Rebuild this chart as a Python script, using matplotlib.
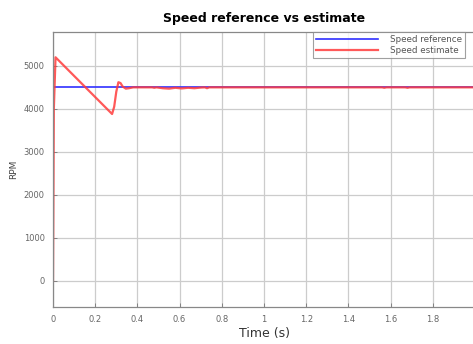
import matplotlib
matplotlib.use("Agg")
import matplotlib.pyplot as plt

# Speed reference (constant set point)
ref_time = [0.0, 2.0]
ref_speed = [4500, 4500]

# Speed estimate from the observer
est_time = [0.0, 0.004, 0.012, 0.28, 0.29,
            0.30, 0.31, 0.32, 0.33, 0.345, 0.36, 0.38, 0.40, 0.47, 0.48,
            0.49, 0.52, 0.55, 0.58, 0.61, 0.64, 0.67, 0.70, 0.72, 0.73,
            0.74, 1.0, 1.56, 1.57, 1.58, 1.67, 1.68, 1.69, 2.0]
est_speed = [0, 4000, 5200, 3880, 4050,
             4400, 4620, 4600, 4520, 4470, 4480, 4500, 4500, 4500, 4490,
             4500, 4480, 4470, 4490, 4475, 4490, 4480, 4495, 4500, 4480,
             4500, 4500, 4500, 4490, 4500, 4500, 4490, 4500, 4500]

x_ticks = [0, 0.2, 0.4, 0.6, 0.8, 1.0, 1.2, 1.4, 1.6, 1.8, 2.0]
x_labels = ["0", "0.2", "0.4", "0.6", "0.8", "1", "1.2", "1.4", "1.6", "1.8", ""]
y_ticks = [0, 1000, 2000, 3000, 4000, 5000]

fig = plt.figure(figsize=(4.73, 3.44), dpi=100)
ax = fig.add_axes([53 / 473, 1 - 306.5 / 344, 422 / 473, 275 / 344])

ax.plot(ref_time, ref_speed, color="#3030ff", lw=1.2, label="Speed reference")
ax.plot(est_time, est_speed, color="#ff3c3c", lw=1.6, alpha=0.85, label="Speed estimate")

ax.set_xlim(0, 2)
ax.set_ylim(-600, 5800)
ax.set_xticks(x_ticks)
ax.set_xticklabels(x_labels)
ax.set_yticks(y_ticks)
ax.tick_params(direction="in", length=3, width=0.6, colors="#777777",
               labelsize=6, labelcolor="#666666", pad=6)
ax.grid(True, color="#cccccc", lw=0.9)
for s in ax.spines.values():
    s.set_color("#888888")
    s.set_linewidth(0.9)

ax.set_title("Speed reference vs estimate", fontsize=9, fontweight="bold", pad=7)
ax.set_xlabel("Time (s)", fontsize=9, color="#333333", labelpad=2)
ax.set_ylabel("RPM", fontsize=6.5, color="#444444", labelpad=4)

leg = ax.legend(loc="upper right", fontsize=6.3, frameon=True, fancybox=False,
                edgecolor="#888888", borderaxespad=0.0, handlelength=7.0,
                labelspacing=0.25, borderpad=0.35, handletextpad=1.4,
                bbox_to_anchor=(412 / 422, 1.0))
leg.get_frame().set_linewidth(0.8)
for t in leg.get_texts():
    t.set_color("#555555")

fig.savefig("out.png", dpi=100)
